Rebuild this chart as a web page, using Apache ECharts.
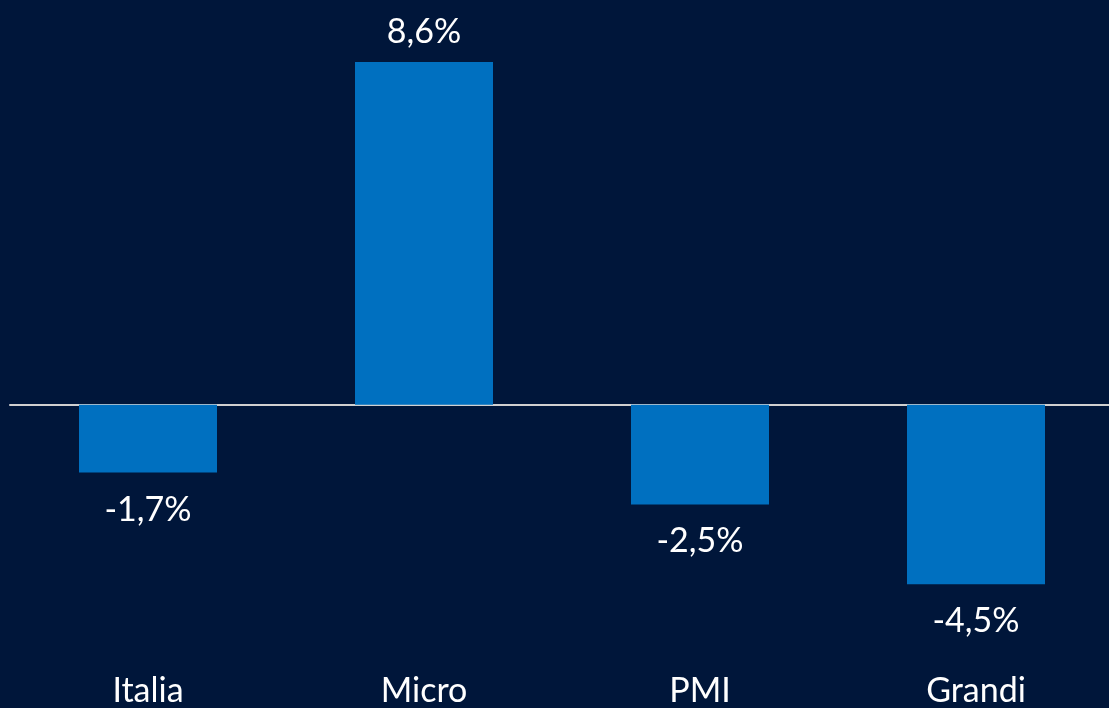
<!DOCTYPE html>
<html>
<head>
<meta charset="utf-8">
<script src="https://cdn.jsdelivr.net/npm/echarts@6/dist/echarts.min.js"></script>
<style>
  html, body { margin: 0; padding: 0; background: #00163A; overflow: hidden; }
  #chart { width: 1114px; height: 708px; }
</style>
</head>
<body>
<div id="chart"></div>
<script>
// categorie e variazioni (%)
const categories = ['Italia', 'Micro', 'PMI', 'Grandi'];
const values = [-1.7, 8.6, -2.5, -4.5];

const fontFamily = 'Lato, "Open Sans", sans-serif';

const chart = echarts.init(document.getElementById('chart'));

chart.setOption({
  backgroundColor: '#00163A',
  animation: false,
  grid: { left: 10, right: 0, top: 46, height: 623 },
  xAxis: [
    {
      type: 'category',
      data: categories,
      axisLine: { onZero: true, lineStyle: { color: '#D0D0D0', width: 2 } },
      axisTick: { show: false },
      axisLabel: { show: false }
    },
    {
      type: 'category',
      data: categories,
      position: 'bottom',
      axisLine: { show: false, onZero: false },
      axisTick: { show: false },
      axisLabel: { color: '#FFFFFF', fontSize: 34, fontFamily: fontFamily, margin: 10 }
    }
  ],
  yAxis: {
    type: 'value',
    min: -6.5,
    max: 9,
    show: false,
    splitLine: { show: false }
  },
  series: [{
    type: 'bar',
    barWidth: '50%',
    itemStyle: { color: '#0070C0' },
    data: values.map(v => ({
      value: v,
      label: {
        show: true,
        position: v >= 0 ? 'top' : 'bottom',
        distance: v >= 0 ? 13 : 20,
        color: '#FFFFFF',
        fontSize: 34,
        fontFamily: fontFamily,
        formatter: () => v.toFixed(1).replace('.', ',') + '%'
      }
    }))
  }]
});
</script>
</body>
</html>
